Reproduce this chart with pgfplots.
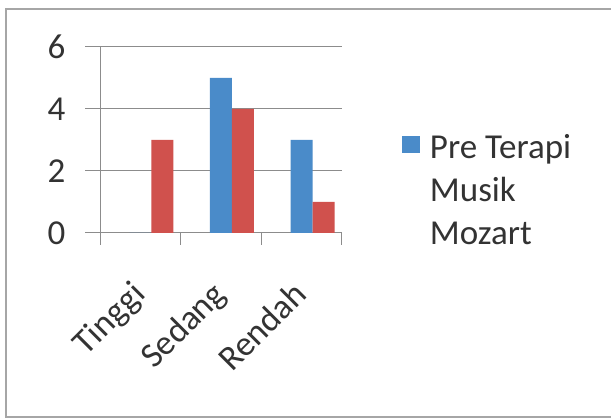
\documentclass[border=0pt]{standalone}
\usepackage{pgfplots}
\pgfplotsset{compat=1.18}
\usepackage{fontspec}
\setmainfont{Carlito}
\definecolor{bblue}{HTML}{4A8BC9}
\definecolor{rred}{HTML}{D0514D}
\definecolor{axgray}{HTML}{8C8C8C}
\definecolor{txt}{HTML}{333333}
\begin{document}
\begin{tikzpicture}[x=1pt,y=1pt]
\useasboundingbox (0,0) rectangle (611,419);
\fill[white] (0,0) rectangle (611,419);
\draw[color=gray!70, line width=1.6pt] (620,410) -- (6,410) -- (6,2) -- (620,2);
\begin{axis}[
  at={(100pt,186pt)}, anchor=south west,
  scale only axis, width=242pt, height=186pt,
  xmin=-0.5, xmax=2.5, ymin=0, ymax=6,
  axis lines*=left,
  axis line style={axgray, line width=1pt},
  ybar=0pt, bar width=22pt,
  xtick={0,1,2},
  xticklabels={Tinggi,Sedang,Rendah},
  minor xtick={-0.5,0.5,1.5,2.5},
  ytick={0,2,4,6},
  ymajorgrids,
  grid style={axgray, line width=1pt},
  tick align=outside,
  major tick length=15pt,
  minor tick length=12pt,
  x tick style={draw=none},
  minor x tick style={draw=axgray, line width=1pt},
  y tick style={axgray, line width=1pt},
  tick label style={font=\fontsize{35}{42}\selectfont, color=txt},
  /pgf/number format/assume math mode=true,
  yticklabel style={xshift=-16pt},
  xticklabel style={rotate=45, anchor=north east, inner sep=0pt, xshift=-29.4pt, yshift=-14.4pt},
  legend style={at={(1.247,0.574)}, anchor=north west, draw=none, fill=none,
    font=\fontsize{35}{43}\selectfont, text=txt, row sep=0pt, inner sep=0pt,
    /tikz/column sep=8pt},
  legend cell align=left,
  legend image code/.code={\fill[bblue] (0pt,-9pt) rectangle (18pt,8pt);},
]
\addplot[fill=bblue, draw=none] coordinates {(0,0) (1,5) (2,3)};
\addlegendentry{\begin{tabular}[t]{@{}l@{}}Pre Terapi\\Musik\\Mozart\end{tabular}}
\addplot[fill=rred, draw=none, forget plot] coordinates {(0,3) (1,4) (2,1)};
\end{axis}
\end{tikzpicture}
\end{document}
